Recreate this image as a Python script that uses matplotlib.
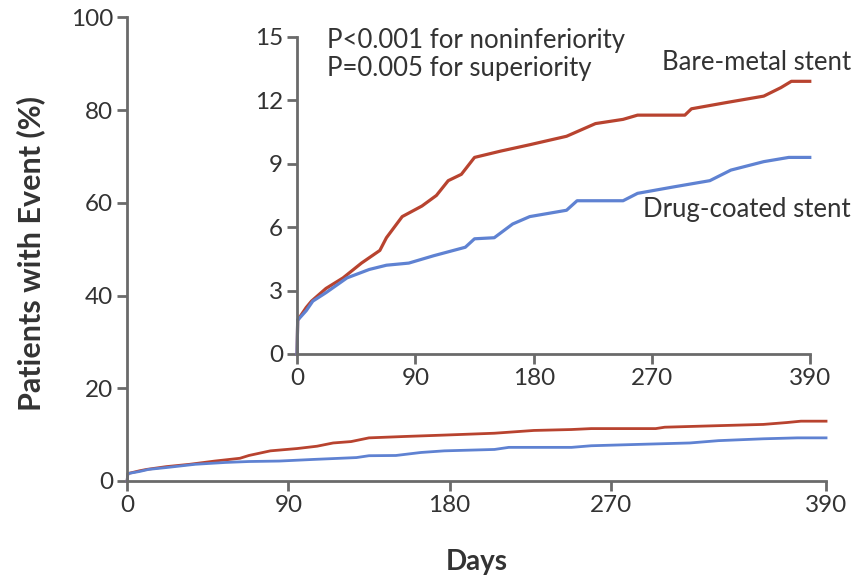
import numpy as np
import matplotlib
matplotlib.use('Agg')
import matplotlib.pyplot as plt

plt.rcParams['font.family'] = ['Lato', 'DejaVu Sans']

# Kaplan-Meier style cumulative event rates (%)
bms_days = [0, 0.5, 7, 11, 22, 35, 49, 63, 68, 80, 95, 106, 115, 125, 135, 155, 177,
            205, 227, 248, 259, 295, 300, 327, 355, 368, 376, 390]
bms_pct = [0, 1.6, 2.2, 2.5, 3.1, 3.6, 4.3, 4.9, 5.5, 6.5, 7.0, 7.5, 8.2, 8.5, 9.3, 9.6, 9.9,
           10.3, 10.9, 11.1, 11.3, 11.3, 11.6, 11.9, 12.2, 12.6, 12.9, 12.9]

dcs_days = [0, 0.5, 7, 12, 22, 38, 55, 68, 85, 104, 128, 135, 150, 164, 177, 205, 213,
            248, 259, 286, 314, 330, 355, 374, 390]
dcs_pct = [0, 1.6, 2.05, 2.5, 2.9, 3.6, 4.0, 4.2, 4.3, 4.65, 5.05, 5.45, 5.5, 6.15, 6.5, 6.8, 7.25,
           7.25, 7.6, 7.9, 8.2, 8.7, 9.1, 9.3, 9.3]

x_ticks = [0, 90, 180, 270, 390]
main_yticks = [0, 20, 40, 60, 80, 100]
inset_yticks = [0, 3, 6, 9, 12, 15]

red = '#b8432f'
blue = '#5f82d2'
axis_col = '#6a6a6a'
text_col = '#333333'

fig = plt.figure(figsize=(8.56, 5.77), dpi=100)


def style(ax):
    for s in ['top', 'right']:
        ax.spines[s].set_visible(False)
    for s in ['left', 'bottom']:
        ax.spines[s].set_color(axis_col)
        ax.spines[s].set_linewidth(2)
    ax.tick_params(direction='out', length=7.5, width=2, color=axis_col,
                   labelsize=17.5, labelcolor=text_col, pad=2.5)
    ax.set_facecolor('none')


ax = fig.add_axes([0.1484, 0.1664, 0.8166, 0.8036])
ax.plot(bms_days, bms_pct, color=red, lw=2.0, clip_on=False)
ax.plot(dcs_days, dcs_pct, color=blue, lw=2.0, clip_on=False)
ax.set_xlim(0, 390)
ax.set_ylim(0, 100)
ax.set_xticks(x_ticks)
ax.set_yticks(main_yticks)
style(ax)

fig.text(31 / 856, 1 - 253 / 577, 'Patients with Event (%)', fontsize=22, fontweight='bold',
         color=text_col, rotation=90, ha='center', va='center')
fig.text(477 / 856, 1 - 570 / 577, 'Days', fontsize=20, fontweight='bold',
         color=text_col, ha='center', va='baseline')

ins = fig.add_axes([0.347, 0.3865, 0.599, 0.5495])
ins.plot(bms_days, bms_pct, color=red, lw=2.3, clip_on=False)
ins.plot(dcs_days, dcs_pct, color=blue, lw=2.3, clip_on=False)
ins.set_xlim(0, 390)
ins.set_ylim(0, 15)
ins.set_xticks(x_ticks)
ins.set_yticks(inset_yticks)
style(ins)

fig.text(327 / 856, 1 - 28 / 577, 'P<0.001 for noninferiority\nP=0.005 for superiority',
         fontsize=18.5, color=text_col, va='top', ha='left', linespacing=1.15)
fig.text(851 / 856, 1 - 63 / 577, 'Bare-metal stent', fontsize=18.5, color=text_col,
         ha='right', va='center')
fig.text(851 / 856, 1 - 210 / 577, 'Drug-coated stent', fontsize=18.5, color=text_col,
         ha='right', va='center')

fig.savefig('out.png', dpi=100)
